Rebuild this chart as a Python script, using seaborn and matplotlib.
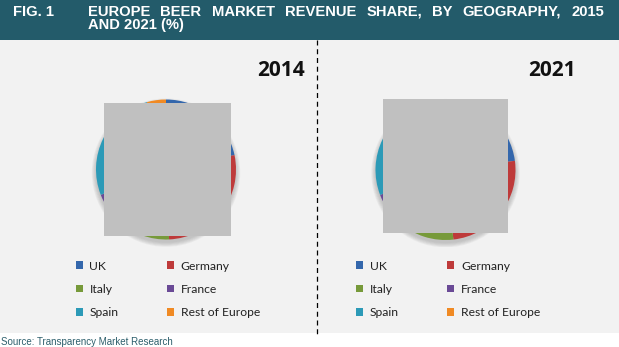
import matplotlib
matplotlib.use("Agg")
import matplotlib.pyplot as plt
from matplotlib.patches import Rectangle, Circle
from matplotlib.lines import Line2D
import seaborn as sns

# Revenue share by country (%), clockwise from 12 o'clock
regions = ["UK", "Germany", "Italy", "France", "Spain", "Rest of Europe"]
share_2014 = [21.7, 27.6, 12.8, 7.0, 26.5, 4.4]
share_2021 = [22.9, 25.3, 13.5, 7.5, 26.2, 4.6]
years = ["2014", "2021"]

title_words = ["EUROPE", "BEER", "MARKET", "REVENUE", "SHARE,", "BY", "GEOGRAPHY,", "2015"]
title_line2 = "AND 2021 (%)"
fig_label = "FIG. 1"
source_text = "Source: Transparency Market Research"

sns.set_theme(style="white")
palette = sns.color_palette(["#3467AC", "#BE3A3A", "#779A3A", "#6A4A96", "#2C9AB7", "#F08A24"])
narrow = ["Liberation Sans Narrow", "Liberation Sans", "DejaVu Sans"]
body = ["Lato", "DejaVu Sans"]

W, H = 619, 347
fig = plt.figure(figsize=(W / 100, H / 100), dpi=100)
fig.patch.set_facecolor("white")


def fx(x):
    return x / W


def fy(y):
    return 1 - y / H


def box(x0, y0, x1, y1, **kw):
    r = Rectangle((fx(x0), fy(y1)), fx(x1) - fx(x0), fy(y0) - fy(y1),
                  transform=fig.transFigure, linewidth=0, **kw)
    fig.add_artist(r)
    return r


# Background panels
box(0, 40, W, 333, facecolor="#F2F2F2", zorder=-2)
box(0, 0, W, 40, facecolor="#235B6A", zorder=-1)

# Divider between the two years
fig.add_artist(Line2D([fx(317), fx(317)], [fy(40), fy(336)], transform=fig.transFigure,
                      color="black", linewidth=0.9, linestyle=(0, (4, 3)), zorder=1))

# Header text, first line justified to the right margin
head_kw = dict(color="white", fontsize=10.6, fontweight="bold", family=narrow,
               va="baseline", ha="left")
fig.text(fx(13), fy(15.5), fig_label, **head_kw)
renderer = fig.canvas.get_renderer()
word_artists = [fig.text(0, fy(15.5), w, **head_kw) for w in title_words]
widths = [t.get_window_extent(renderer).width for t in word_artists]
left, right = 88, 604
gap = (right - left - sum(widths)) / (len(title_words) - 1)
xpos = left
for t, wd in zip(word_artists, widths):
    t.set_x(fx(xpos))
    xpos += wd + gap
fig.text(fx(88), fy(28.5), title_line2, **head_kw)

fig.text(fx(1), fy(345), source_text, color="#2D5F6C", fontsize=7.0,
         family=narrow, va="baseline", ha="left")

# Pie charts
centers = [(166, 169.5), (445.5, 170)]
radius_px = 70
covers = [(104, 102.7, 231, 235.7), (383, 99, 507.7, 232.7)]
year_pos = [305, 576]
legend_pos = [(75.5, 260.5), (356, 260.5)]

for data, year, (cx, cy), cover, yx, (lx, ly) in zip(
        [share_2014, share_2021], years, centers, covers, year_pos, legend_pos):
    ax = fig.add_axes([fx(cx - radius_px * 1.1), fy(cy + radius_px * 1.1),
                       2.2 * radius_px / W, 2.2 * radius_px / H])
    ax.set_facecolor("none")
    # soft drop shadow beneath the pie
    for k in range(6):
        ax.add_patch(Circle((0.0, -0.045), 1.0 + 0.012 * k, color="#8A8A8A",
                            alpha=0.09, zorder=0, linewidth=0))
    wedges, _ = ax.pie(data, colors=palette, startangle=90, counterclock=False,
                       radius=1.0, wedgeprops=dict(linewidth=0))
    for w in wedges:
        w.set_zorder(1)
    ax.set_xlim(-1.1, 1.1)
    ax.set_ylim(-1.1, 1.1)
    ax.axis("off")

    box(*cover, facecolor="#C0C0C0", zorder=5)

    fig.text(fx(yx), fy(70), year, color="#111111", fontsize=15, fontweight="bold",
             family=["Open Sans", "DejaVu Sans"], ha="right", va="center")

    order = [0, 2, 4, 1, 3, 5]
    handles = [Rectangle((0, 0), 1, 1, facecolor=palette[i], linewidth=0) for i in order]
    labels = [regions[i] for i in order]
    fig.legend(handles, labels, loc="upper left", bbox_to_anchor=(fx(lx), fy(ly)),
               bbox_transform=fig.transFigure, ncol=2, frameon=False,
               prop=dict(family=body, size=8.7), handlelength=0.6, handleheight=0.6,
               handletextpad=0.55, columnspacing=4.0, labelspacing=1.02, borderpad=0,
               borderaxespad=0, labelcolor="#222222")

fig.savefig("out.png", dpi=100, facecolor=fig.get_facecolor())
